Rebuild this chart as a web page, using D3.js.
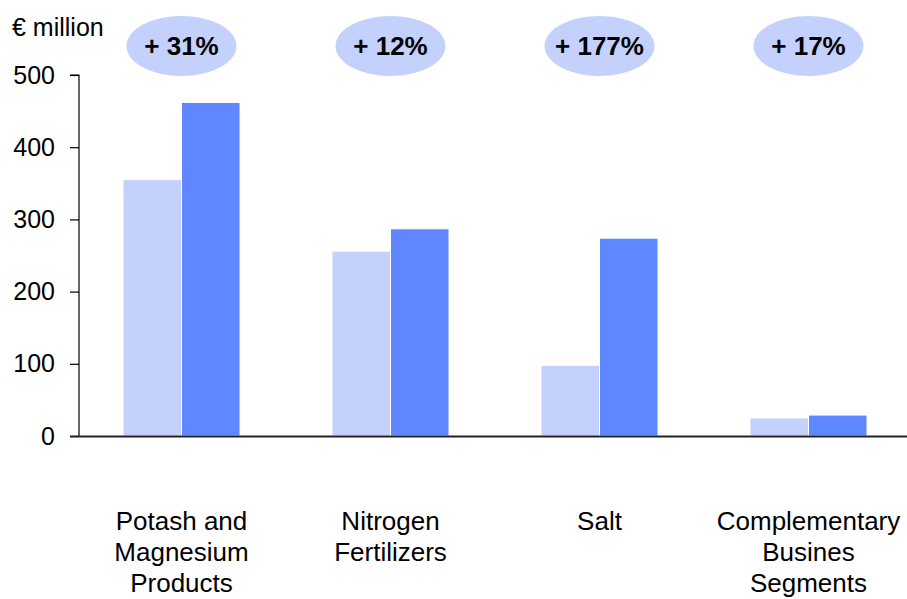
<!DOCTYPE html>
<html>
<head>
<meta charset="utf-8" />
<script src="https://cdn.jsdelivr.net/npm/d3@7"></script>
<style>
	body { margin: 0; background: #fff; }
	text { font-family: "Liberation Sans", Arial, sans-serif; fill: #000; }
	.tick text { font-size: 25px; }
	.catlabel { font-size: 26px; }
	.growth { font-size: 26px; font-weight: bold; }
</style>
</head>
<body>
<script>
	var width = 907;
	var height = 599;

	// data
	var categories = ["Potash and Magnesium Products", "Nitrogen Fertilizers", "Salt", "Complementary Busines Segments"];
	var categoryLines = [["Potash and", "Magnesium", "Products"], ["Nitrogen", "Fertilizers"], ["Salt"], ["Complementary", "Busines", "Segments"]];
	var series = ["previous", "current"];
	var previousValues = [355, 256, 98, 25];
	var currentValues = [462, 287, 274, 29];
	var growthLabels = ["+ 31%", "+ 12%", "+ 177%", "+ 17%"];
	var yTicks = [0, 100, 200, 300, 400, 500];
	var colors = ["#c4d1fc", "#5f87ff"];

	var svg = d3.select("body").append("svg")
		.attr("width", width)
		.attr("height", height);

	var x0 = d3.scaleBand()
		.domain(categories)
		.range([77, 913])
		.paddingInner(0.44)
		.paddingOuter(0.22);

	var x1 = d3.scaleBand()
		.domain(series)
		.range([0, x0.bandwidth()]);

	var y = d3.scaleLinear()
		.domain([0, 500])
		.range([436, 75]);

	// bars
	var groups = svg.append("g").selectAll("g")
		.data(categories)
		.enter().append("g")
		.attr("transform", function(d) { return "translate(" + x0(d) + ",0)"; });

	groups.selectAll("rect")
		.data(function(d, i) { return [previousValues[i], currentValues[i]]; })
		.enter().append("rect")
		.attr("x", function(d, j) { return x1(series[j]); })
		.attr("y", function(d) { return y(d); })
		.attr("width", x1.bandwidth())
		.attr("height", function(d) { return y(0) - y(d); })
		.attr("fill", function(d, j) { return colors[j]; })
		.attr("stroke", "#fff")
		.attr("stroke-width", 1);

	// y axis
	var yAxis = d3.axisLeft(y)
		.tickValues(yTicks)
		.tickSize(9)
		.tickPadding(15);

	var ya = svg.append("g")
		.attr("transform", "translate(79,0)")
		.call(yAxis);
	ya.select(".domain").attr("d", "M-9," + y(500) + "H0V" + y(0)).attr("stroke", "#000").attr("stroke-width", 1.2);
	ya.selectAll(".tick line").attr("stroke", "#000").attr("stroke-width", 1.2);

	// x axis line
	svg.append("line")
		.attr("x1", 70).attr("x2", 907)
		.attr("y1", y(0) + 0.5).attr("y2", y(0) + 0.5)
		.attr("stroke", "#222")
		.attr("stroke-width", 1.8);

	// unit label
	svg.append("text")
		.attr("x", 12)
		.attr("y", 36)
		.style("font-size", "25px")
		.text("€ million");

	// growth bubbles
	var bubbles = svg.append("g").selectAll("g")
		.data(categories)
		.enter().append("g")
		.attr("transform", function(d) { return "translate(" + (x0(d) + x0.bandwidth() / 2) + ",46)"; });

	bubbles.append("ellipse")
		.attr("rx", 55)
		.attr("ry", 30)
		.attr("fill", "#c4d1fc");

	bubbles.append("text")
		.attr("class", "growth")
		.attr("text-anchor", "middle")
		.attr("dy", "0.36em")
		.text(function(d, i) { return growthLabels[i]; });

	// category labels
	var labels = svg.append("g").selectAll("text")
		.data(categories)
		.enter().append("text")
		.attr("class", "catlabel")
		.attr("text-anchor", "middle")
		.attr("x", function(d) { return x0(d) + x0.bandwidth() / 2; })
		.attr("y", 530);

	labels.selectAll("tspan")
		.data(function(d, i) { return categoryLines[i]; })
		.enter().append("tspan")
		.attr("x", function() { return d3.select(this.parentNode).attr("x"); })
		.attr("dy", function(d, j) { return j === 0 ? 0 : 31; })
		.text(function(d) { return d; });
</script>
</body>
</html>
